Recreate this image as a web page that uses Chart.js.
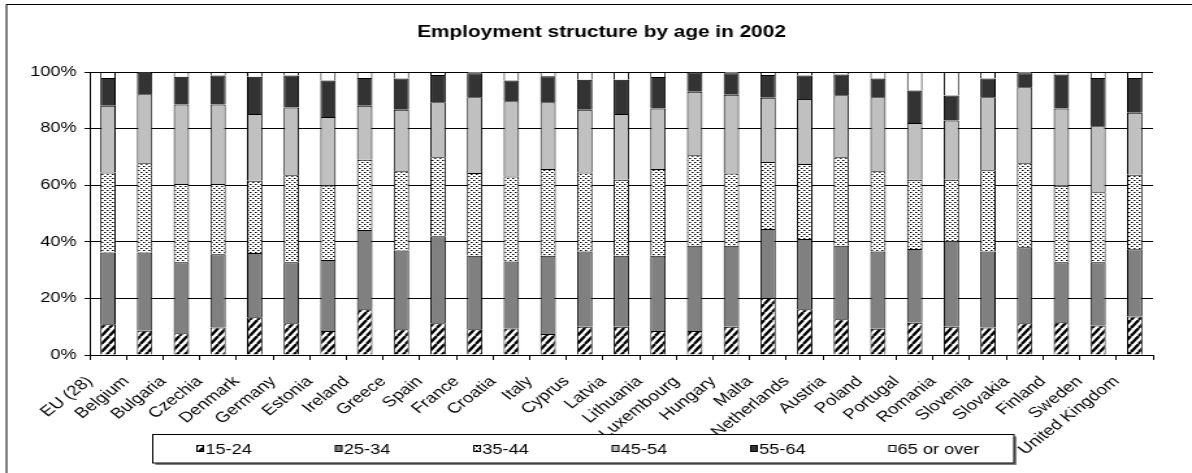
<!DOCTYPE html>
<html lang="en">
<head>
<meta charset="UTF-8">
<title>Employment structure by age in 2002</title>
<style>
  html, body { margin: 0; padding: 0; background: #fff; }
</style>
</head>
<body>
<!-- the source picture is stretched sideways, so the canvas is drawn narrower and widened by CSS -->
<canvas id="chart" width="917" height="473" style="display:block;width:1192px;height:473px"></canvas>
<script src="https://cdn.jsdelivr.net/npm/chart.js"></script>
<script>
// categories
const countries = ['EU (28)', 'Belgium', 'Bulgaria', 'Czechia', 'Denmark', 'Germany', 'Estonia', 'Ireland',
  'Greece', 'Spain', 'France', 'Croatia', 'Italy', 'Cyprus', 'Latvia', 'Lithuania', 'Luxembourg', 'Hungary',
  'Malta', 'Netherlands', 'Austria', 'Poland', 'Portugal', 'Romania', 'Slovenia', 'Slovakia', 'Finland',
  'Sweden', 'United Kingdom'];

// series values (% of employment)
const age15to24 = [10.9, 8.6, 7.7, 9.7, 13.3, 11.2, 8.5, 16.2, 9.1, 11.2, 9.1, 9.4, 7.4, 10.0, 10.0, 8.5, 8.5, 10.0, 20.1, 16.2, 12.6, 9.3, 11.4, 10.0, 9.7, 11.2, 11.6, 10.4, 13.6];
const age25to34 = [25.3, 27.6, 25.1, 25.9, 22.7, 21.6, 25.1, 28.0, 27.8, 30.8, 26.0, 23.6, 27.7, 26.6, 25.1, 26.6, 30.1, 28.6, 24.4, 24.8, 26.0, 27.3, 26.1, 30.1, 26.9, 26.9, 21.2, 22.4, 23.8];
const age35to44 = [28.3, 31.6, 27.6, 24.8, 25.6, 30.7, 26.3, 24.8, 28.0, 27.9, 29.2, 30.1, 30.6, 27.9, 26.8, 30.6, 32.0, 25.5, 23.7, 26.5, 31.3, 28.3, 24.4, 21.8, 28.7, 29.7, 27.0, 24.7, 26.3];
const age45to54 = [23.6, 24.3, 28.1, 28.1, 23.6, 24.0, 24.2, 19.1, 21.8, 19.4, 26.8, 26.6, 23.6, 22.2, 23.3, 21.4, 22.4, 27.9, 22.7, 23.0, 21.9, 26.2, 20.1, 21.0, 25.8, 26.8, 27.3, 23.3, 21.9];
const age55to64 = [9.8, 7.6, 9.8, 10.3, 13.1, 11.3, 12.9, 9.8, 11.0, 9.6, 8.5, 7.3, 9.2, 10.6, 12.1, 11.1, 6.8, 7.6, 8.0, 8.3, 7.3, 6.6, 11.5, 8.8, 6.6, 5.0, 12.0, 17.1, 12.3];
const age65plus = [2.1, 0.3, 1.7, 1.2, 1.7, 1.2, 3.0, 2.1, 2.3, 1.1, 0.4, 3.0, 1.5, 2.7, 2.7, 1.8, 0.2, 0.4, 1.1, 1.2, 0.9, 2.3, 6.5, 8.3, 2.3, 0.4, 0.9, 2.1, 2.1];

const seriesNames = ['15-24', '25-34', '35-44', '45-54', '55-64', '65 or over'];
const chartTitle = 'Employment structure by age in 2002';

// y axis: 0% .. 100% every 20
const yMin = 0, yMax = 100, yStep = 20;

const FONT = '"Liberation Sans", Arial, sans-serif';
Chart.defaults.font.family = FONT;
Chart.defaults.color = '#000';

// fill patterns
function hatchPattern() {
  const w = 6, h = 8;
  const c = document.createElement('canvas');
  c.width = w; c.height = h;
  const g = c.getContext('2d');
  g.fillStyle = '#fff';
  g.fillRect(0, 0, w, h);
  g.strokeStyle = '#000';
  g.lineWidth = 2.4;
  for (let k = 0; k <= 2; k++) {
    g.beginPath();
    g.moveTo((k - 1) * w, h);
    g.lineTo(k * w, 0);
    g.stroke();
  }
  return g.createPattern(c, 'repeat');
}

function dotPattern() {
  const c = document.createElement('canvas');
  c.width = 4; c.height = 4;
  const g = c.getContext('2d');
  g.fillStyle = '#fff';
  g.fillRect(0, 0, 4, 4);
  g.fillStyle = '#000';
  g.fillRect(0, 0, 1, 1);
  g.fillRect(2, 2, 1, 1);
  g.fillStyle = '#777';
  g.fillRect(1, 0, 1, 1);
  g.fillRect(3, 2, 1, 1);
  return g.createPattern(c, 'repeat');
}

const fills = [hatchPattern(), '#808080', dotPattern(), '#c0c0c0', '#333333', '#ffffff'];
const seriesData = [age15to24, age25to34, age35to44, age45to54, age55to64, age65plus];

// title, boxed legend and outer frame
const decorPlugin = {
  id: 'decor',
  afterDraw(chart) {
    const ctx = chart.ctx;
    ctx.save();

    ctx.strokeStyle = '#000';
    ctx.lineWidth = 1;
    ctx.strokeRect(5, 4.5, chart.width + 20, chart.height + 20);

    ctx.fillStyle = '#000';
    ctx.font = 'bold 16px ' + FONT;
    ctx.textAlign = 'center';
    ctx.textBaseline = 'alphabetic';
    ctx.fillText(chartTitle, 462.7, 36.7);

    // legend box with a small shadow
    const bx = 117.5, by = 434.5, bw = 662.5, bh = 28.5;
    ctx.fillStyle = '#808080';
    ctx.fillRect(bx + 2, by + 2, bw, bh);
    ctx.fillStyle = '#fff';
    ctx.fillRect(bx, by, bw, bh);
    ctx.strokeStyle = '#000';
    ctx.strokeRect(bx, by, bw, bh);

    ctx.font = '14px ' + FONT;
    ctx.textAlign = 'left';
    chart.data.datasets.forEach((ds, i) => {
      const mx = 151.5 + i * 106.5;
      ctx.fillStyle = ds.backgroundColor;
      ctx.fillRect(mx, 445.5, 5, 6);
      ctx.strokeStyle = '#000';
      ctx.strokeRect(mx, 445.5, 5, 6);
      ctx.fillStyle = '#000';
      ctx.fillText(ds.label, mx + 6.5, 453.5);
    });

    ctx.restore();
  }
};

const canvas = document.getElementById('chart');
new Chart(canvas, {
  type: 'bar',
  data: {
    labels: countries,
    datasets: seriesNames.map((name, i) => ({
      label: name,
      data: seriesData[i],
      backgroundColor: fills[i],
      borderColor: '#000',
      borderWidth: 1,
      barPercentage: 0.42,
      categoryPercentage: 1
    }))
  },
  options: {
    responsive: false,
    maintainAspectRatio: false,
    devicePixelRatio: 1,
    animation: false,
    layout: { padding: { top: 72, right: 30, left: 0, bottom: 0 } },
    plugins: {
      legend: { display: false },
      title: { display: false },
      tooltip: { enabled: false }
    },
    scales: {
      x: {
        stacked: true,
        afterFit(scale) { scale.height = 118; },
        grid: {
          drawOnChartArea: false,
          drawTicks: true,
          tickLength: 5,
          color: '#000'
        },
        border: { display: true, color: '#000' },
        ticks: {
          autoSkip: false,
          minRotation: 45,
          maxRotation: 45,
          padding: 13,
          labelOffset: -14,
          font: { size: 14.5 },
          color: '#000'
        }
      },
      y: {
        stacked: true,
        min: yMin,
        max: yMax,
        afterFit(scale) { scale.width = 69; },
        grid: {
          color: '#000',
          drawTicks: true,
          tickLength: 4
        },
        border: { display: true, color: '#000' },
        ticks: {
          stepSize: yStep,
          padding: 6,
          font: { size: 14 },
          color: '#000',
          callback: v => v + '%'
        }
      }
    }
  },
  plugins: [decorPlugin]
});
canvas.style.width = '1192px';
canvas.style.height = '473px';
</script>
</body>
</html>
